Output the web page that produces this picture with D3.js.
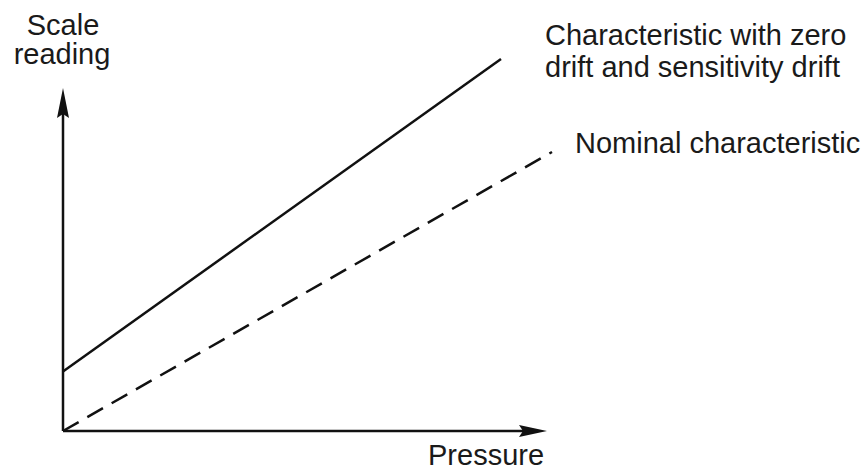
<!DOCTYPE html>
<html><head><meta charset="utf-8">
<script src="https://cdn.jsdelivr.net/npm/d3@7"></script>
<style>body{margin:0;background:#fff}svg{display:block}text{font-family:"Liberation Sans",Arial,sans-serif;fill:#1a1a1a}</style>
</head><body><svg id="c" width="865" height="475"></svg>
<script>
// Data (arbitrary units)
const nominalPressure = [0, 9.78];
const nominalReading  = [0, 7.5];
const driftPressure   = [0, 8.76];
const driftReading    = [1.6, 10];
const axisMax = {x: 9.68, y: 9.22};
const labels = {
  y: ["Scale", "reading"],
  x: "Pressure",
  drift: ["Characteristic with zero", "drift and sensitivity drift"],
  nominal: "Nominal characteristic"
};

const svg = d3.select("#c");
const x = d3.scaleLinear().domain([0, 10]).range([63, 563]);
const y = d3.scaleLinear().domain([0, 10]).range([431, 59]);

const line = d3.line().x(d => x(d[0])).y(d => y(d[1]));
const nomPts = nominalPressure.map((p, i) => [p, nominalReading[i]]);
const drPts = driftPressure.map((p, i) => [p, driftReading[i]]);

// axes
svg.append("line").attr("x1", x(0)).attr("y1", y(0)).attr("x2", x(0)).attr("y2", y(axisMax.y) + 20)
  .attr("stroke", "#111").attr("stroke-width", 2.5);
svg.append("line").attr("x1", x(0)).attr("y1", y(0)).attr("x2", x(axisMax.x) - 20).attr("y2", y(0))
  .attr("stroke", "#111").attr("stroke-width", 2.5);
// arrowheads
const ty = y(axisMax.y), tx = x(axisMax.x);
svg.append("path").attr("d", `M${x(0)},${ty} L${x(0)+6},${ty+30} L${x(0)},${ty+26} L${x(0)-6},${ty+30} Z`).attr("fill", "#111");
svg.append("path").attr("d", `M${tx},${y(0)} L${tx-28},${y(0)-6} L${tx-24},${y(0)} L${tx-28},${y(0)+6} Z`).attr("fill", "#111");

// lines
svg.append("path").attr("d", line(drPts)).attr("fill", "none").attr("stroke", "#111").attr("stroke-width", 2.5);
svg.append("path").attr("d", line(nomPts)).attr("fill", "none").attr("stroke", "#111").attr("stroke-width", 2.5)
  .attr("stroke-dasharray", "18,10");

// labels
const fs = 29;
svg.append("text").attr("x", 63).attr("y", 35).attr("text-anchor", "middle").attr("font-size", fs).text(labels.y[0]);
svg.append("text").attr("x", 62).attr("y", 64).attr("text-anchor", "middle").attr("font-size", fs).text(labels.y[1]);
svg.append("text").attr("x", 428).attr("y", 465).attr("font-size", fs).text(labels.x);
svg.append("text").attr("x", 545).attr("y", 45).attr("font-size", fs).text(labels.drift[0]);
svg.append("text").attr("x", 545).attr("y", 77).attr("font-size", fs).text(labels.drift[1]);
svg.append("text").attr("x", 575).attr("y", 153).attr("font-size", fs).text(labels.nominal);
</script></body></html>
